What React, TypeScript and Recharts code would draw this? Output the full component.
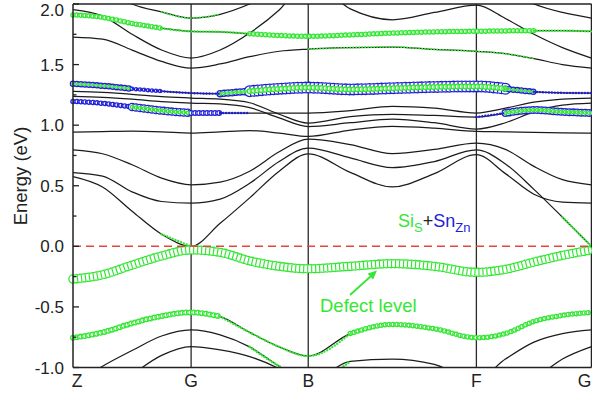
import React from 'react';
import { LineChart, Line, XAxis, YAxis, ReferenceLine } from 'recharts';

// k-path sample positions (Z - G - B - F - G)
const kPath = [0, 29.5, 59, 88.5, 118, 147, 176.5, 206, 235, 277, 319, 361, 403, 432, 460.5, 489, 518];
const kTicks = [0, 118, 235, 403, 518];
const kLabels = ['Z', 'G', 'B', 'F', 'G'];
const energyTicks = [-1, -0.75, -0.5, -0.25, 0, 0.25, 0.5, 0.75, 1, 1.25, 1.5, 1.75, 2];

// band energies (eV) read at each kPath point
const defectLevel = [-0.27, -0.235, -0.155, -0.08, -0.03, -0.05, -0.12, -0.165, -0.185, -0.165, -0.143, -0.165, -0.215, -0.19, -0.13, -0.075, -0.03];
const valence2 = [-0.755, -0.71, -0.635, -0.575, -0.545, -0.58, -0.71, -0.83, -0.905, -0.72, -0.645, -0.68, -0.755, -0.72, -0.62, -0.57, -0.545];
const valence3 = [-1.15, -0.99, -0.86, -0.74, -0.69, -0.73, -0.83, -0.99, -1.12, -0.95, -0.93, -0.975, -1.1, -0.93, -0.79, -0.72, -0.69];
const valence4 = [-1.4, -1.25, -1.06, -0.9, -0.827, -0.855, -0.91, -1.01, -1.15, -1.3, -1.35, -1.3, -1.4, -1.25, -1.1, -0.93, -0.827];
const cond0 = [0.576, 0.49, 0.29, 0.1, 0.0, 0.19, 0.4, 0.62, 0.764, 0.61, 0.49, 0.6, 0.756, 0.6, 0.43, 0.365, 0.357];
const cond1 = [0.609, 0.58, 0.45, 0.37, 0.357, 0.39, 0.52, 0.7, 0.811, 0.73, 0.65, 0.7, 0.797, 0.68, 0.47, 0.24, 0.0];
const cond2 = [0.797, 0.764, 0.673, 0.563, 0.508, 0.53, 0.62, 0.78, 0.885, 0.84, 0.765, 0.8, 0.852, 0.8, 0.66, 0.55, 0.508];
const cond3 = [0.943, 0.947, 0.95, 0.945, 0.935, 0.945, 0.955, 0.935, 0.907, 0.96, 0.99, 0.975, 0.948, 0.945, 0.94, 0.937, 0.935];
const bandQ = [1.196, 1.18, 1.15, 1.12, 1.1, 1.1, 1.1, 1.1, 1.1, 1.12, 1.155, 1.14, 1.1, 1.14, 1.19, 1.215, 1.224];
const bandB1 = [1.237, 1.23, 1.215, 1.195, 1.182, 1.175, 1.145, 1.06, 0.989, 1.02, 1.05, 1.02, 0.968, 1.02, 1.11, 1.165, 1.182];
const bandB2 = [1.278, 1.27, 1.255, 1.235, 1.224, 1.215, 1.185, 1.09, 1.017, 1.07, 1.09, 1.08, 1.067, 1.1, 1.125, 1.11, 1.1];
const bandP = [1.342, 1.325, 1.3, 1.28, 1.265, 1.26, 1.28, 1.3, 1.31, 1.295, 1.305, 1.315, 1.32, 1.3, 1.275, 1.267, 1.265];
const bandT1 = [1.727, 1.71, 1.62, 1.526, 1.471, 1.505, 1.565, 1.61, 1.628, 1.64, 1.645, 1.625, 1.609, 1.59, 1.55, 1.5, 1.471];
const bandT2 = [1.953, 1.9, 1.75, 1.62, 1.554, 1.62, 1.76, 1.95, 2.2, 1.96, 1.87, 1.93, 1.99, 1.88, 1.75, 1.64, 1.554];
const bandT3 = [2.3, 2.15, 2.0, 1.935, 1.884, 1.915, 2.0, 2.12, 2.25, 2.35, 2.4, 2.35, 2.3, 2.12, 2.0, 1.93, 1.884];
const greenTop = [1.91, 1.89, 1.84, 1.8, 1.774, 1.77, 1.755, 1.74, 1.733, 1.745, 1.76, 1.77, 1.775, 1.778, 1.78, 1.78, 1.774];

const allBands = [valence4, valence3, valence2, defectLevel, cond0, cond1, cond2, cond3, bandQ, bandB1, bandB2, bandP, bandT1, bandT2, bandT3, greenTop];

const GREEN = '#35e635';
const BLUE = '#1f1fd6';
const FONT = "'Liberation Sans', Arial, sans-serif";

type Weight = { band: number[]; from: number; to: number; color: string; size: number };

// projected weights drawn as rings along the band
const rings: Weight[] = [
  { band: bandP, from: 0, to: 2, color: BLUE, size: 6.5 },
  { band: bandP, from: 2, to: 3, color: BLUE, size: 4.5 },
  { band: bandP, from: 5, to: 6, color: BLUE, size: 7.5 },
  { band: bandP, from: 6, to: 13, color: BLUE, size: 12 },
  { band: bandP, from: 13, to: 14, color: BLUE, size: 6.5 },
  { band: bandQ, from: 0, to: 2, color: BLUE, size: 5.5 },
  { band: bandQ, from: 2, to: 4, color: BLUE, size: 8.5 },
  { band: bandQ, from: 4, to: 5, color: BLUE, size: 6 },
  { band: bandB2, from: 13, to: 16, color: BLUE, size: 8 },
  { band: bandP, from: 0, to: 2, color: GREEN, size: 3.5 },
  { band: bandP, from: 5, to: 6, color: GREEN, size: 4 },
  { band: bandP, from: 6, to: 13, color: GREEN, size: 6 },
  { band: bandP, from: 13, to: 14, color: GREEN, size: 3.5 },
  { band: bandQ, from: 2, to: 4, color: GREEN, size: 4.5 },
  { band: bandB2, from: 13, to: 16, color: GREEN, size: 4.5 },
  { band: defectLevel, from: 0, to: 16, color: GREEN, size: 9.5 },
  { band: valence2, from: 0, to: 5, color: GREEN, size: 6 },
  { band: valence2, from: 9, to: 16, color: GREEN, size: 5.5 },
  { band: greenTop, from: 0, to: 3, color: GREEN, size: 5.5 },
  { band: greenTop, from: 6, to: 14, color: GREEN, size: 5.5 },
];

// small weights drawn as dots
const dots: Weight[] = [
  { band: bandP, from: 3, to: 5, color: BLUE, size: 2.4 },
  { band: bandP, from: 14, to: 16, color: BLUE, size: 2.4 },
  { band: bandQ, from: 5, to: 6, color: BLUE, size: 2.4 },
  { band: bandB2, from: 12, to: 13, color: BLUE, size: 2.4 },
  { band: greenTop, from: 3, to: 6, color: GREEN, size: 2.4 },
  { band: greenTop, from: 14, to: 16, color: GREEN, size: 2.4 },
  { band: valence2, from: 5, to: 9, color: GREEN, size: 2.4 },
  { band: valence3, from: 6, to: 9, color: GREEN, size: 2.6 },
  { band: cond0, from: 3, to: 4, color: GREEN, size: 2.4 },
  { band: cond1, from: 15, to: 16, color: GREEN, size: 2.4 },
  { band: bandT3, from: 3, to: 5, color: GREEN, size: 2 },
  { band: bandT1, from: 8, to: 14, color: GREEN, size: 2 },
];

const toSeries = (band: number[], from = 0, to = band.length - 1) =>
  kPath.slice(from, to + 1).map((k, i) => ({ k, e: band[from + i] }));

const base = { dataKey: 'e', type: 'monotone' as const, dot: false, activeDot: false, isAnimationActive: false };

const ringLines = (w: Weight, key: string) => {
  const data = toSeries(w.band, w.from, w.to);
  const gap = 4;
  const inner = w.size - 2.6;
  return [
    <Line key={key + 'a'} {...base} data={data} stroke={w.color} strokeWidth={w.size} strokeLinecap="round" strokeDasharray={`0 ${gap}`} />,
    <Line key={key + 'b'} {...base} data={data} stroke="#fff" strokeWidth={inner} strokeLinecap="round" strokeDasharray={`0 ${gap}`} />,
    <Line key={key + 'c'} {...base} data={data} stroke={w.color} strokeWidth={inner} strokeDasharray={`1.2 ${gap - 1.2}`} />,
  ];
};

const EnergyTick = (props: any) => {
  const { x, y, payload } = props;
  const v = payload.value;
  const major = Math.abs(v * 2 - Math.round(v * 2)) < 1e-6;
  // keep the top label inside the picture
  const ty = v === 2 ? y + 11.5 : y + 6;
  return (
    <g>
      <line x1={x} x2={x + (major ? 6 : 3.5)} y1={y} y2={y} stroke="#222" strokeWidth={1.3} />
      {major && (
        <text x={x - 9} y={ty} textAnchor="end" fontSize={17} fill="#222" fontFamily={FONT}>
          {v.toFixed(1)}
        </text>
      )}
    </g>
  );
};

const PathTick = (props: any) => {
  const { x, y, payload } = props;
  const i = kTicks.indexOf(payload.value);
  const shift = i === 0 ? 4 : i === kTicks.length - 1 ? -7 : 0;
  return (
    <text x={x + shift} y={y + 19} textAnchor="middle" fontSize={17.5} fill="#222" fontFamily={FONT}>
      {kLabels[i]}
    </text>
  );
};

const App: React.FC = () => {
  return (
    <div style={{ position: 'absolute', left: 0, top: 0, width: 592, height: 400, background: '#fff' }}>
      <LineChart width={592} height={400} margin={{ top: 4, right: 0.5, bottom: 0, left: 0 }}>
        <XAxis
          dataKey="k"
          type="number"
          domain={[0, 518]}
          ticks={kTicks}
          interval={0}
          height={32.5}
          tickSize={0}
          tickMargin={0}
          tickLine={false}
          tick={<PathTick />}
          axisLine={{ stroke: '#222', strokeWidth: 1.5 }}
        />
        <YAxis
          type="number"
          domain={[-1, 2]}
          allowDataOverflow
          ticks={energyTicks}
          interval={0}
          width={73}
          tickSize={0}
          tickMargin={0}
          tickLine={false}
          tick={<EnergyTick />}
          axisLine={{ stroke: '#222', strokeWidth: 1.5 }}
        />
        {kTicks.slice(1, 4).map((k) => (
          <ReferenceLine key={'v' + k} x={k} stroke="#2a2a2a" strokeWidth={1.3} />
        ))}
        <ReferenceLine x={518} stroke="#222" strokeWidth={1.5} />
        <ReferenceLine y={2} stroke="#222" strokeWidth={1.5} />
        {allBands.map((b, i) => (
          <Line key={'band' + i} {...base} data={toSeries(b)} stroke="#1c1c1c" strokeWidth={1.25} />
        ))}
        {rings.flatMap((w, i) => ringLines(w, 'ring' + i))}
        {dots.map((w, i) => (
          <Line
            key={'dot' + i}
            {...base}
            data={toSeries(w.band, w.from, w.to)}
            stroke={w.color}
            strokeWidth={w.size}
            strokeLinecap="round"
            strokeDasharray="0 3"
          />
        ))}
        <ReferenceLine y={0} stroke="#e5453c" strokeWidth={1.5} strokeDasharray="8 5" />
      </LineChart>
      <svg width={592} height={400} style={{ position: 'absolute', left: 0, top: 0, pointerEvents: 'none' }}>
        <text transform="translate(27,176) rotate(-90)" textAnchor="middle" fontSize={18.5} fill="#222" fontFamily={FONT}>
          Energy (eV)
        </text>
        <text x={398} y={227} fontSize={18} fill={GREEN} fontFamily={FONT}>
          Si
          <tspan fontSize={13} dy={5}>S</tspan>
          <tspan dy={-5} fill="#222">+</tspan>
          <tspan fill={BLUE}>Sn</tspan>
          <tspan fontSize={13} dy={5} fill={BLUE}>Zn</tspan>
        </text>
        <text x={320} y={312} fontSize={18.5} fill={GREEN} fontFamily={FONT}>
          Defect level
        </text>
        <line x1={350} y1={295} x2={370.5} y2={276.5} stroke={GREEN} strokeWidth={1.8} />
        <polygon points="377,270.5 373,279.5 367.6,273.5" fill={GREEN} />
      </svg>
    </div>
  );
};

export default App;
